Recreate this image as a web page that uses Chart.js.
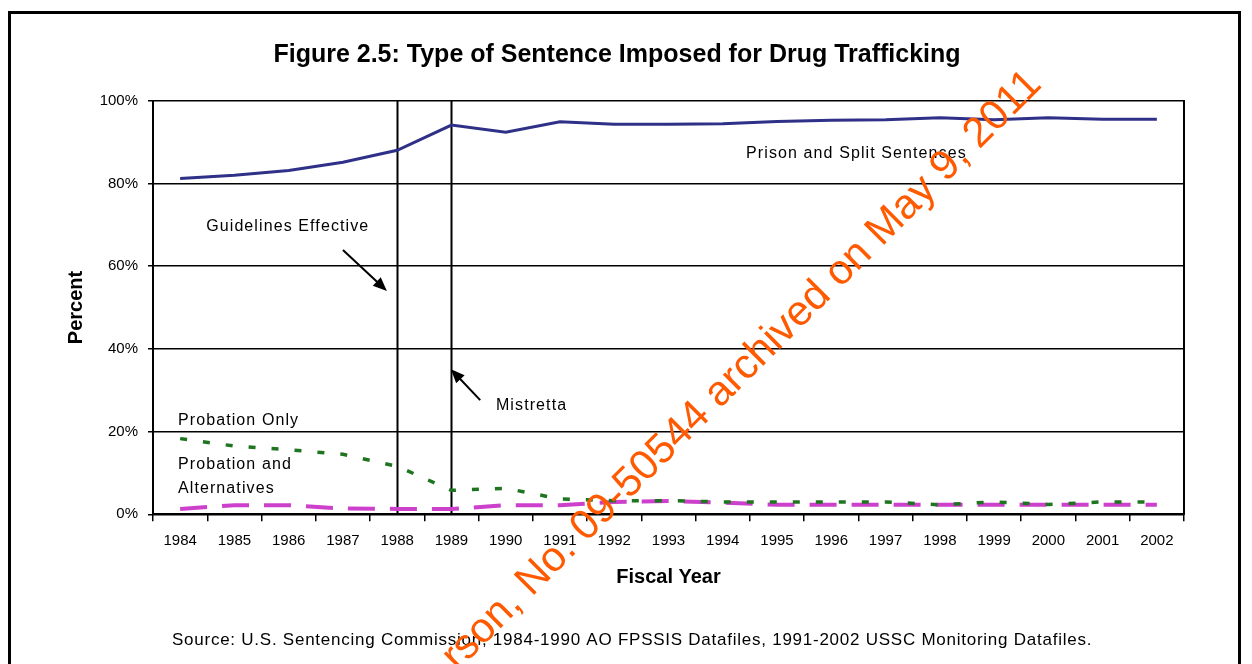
<!DOCTYPE html>
<html>
<head>
<meta charset="utf-8">
<title>Figure 2.5: Type of Sentence Imposed for Drug Trafficking</title>
<script src="https://cdn.jsdelivr.net/npm/chart.js@4.4.1/dist/chart.umd.min.js"></script>
<style>
  html, body { margin: 0; padding: 0; background: #fff; }
  #wrap { width: 1252px; height: 664px; }
</style>
</head>
<body>
<div id="wrap"><canvas id="chart" width="1252" height="664"></canvas></div>
<script>
// -------------- DATA ------------------

const years = [
    "1984", "1985", "1986", "1987", "1988", "1989", "1990", "1991", "1992", "1993",
    "1994", "1995", "1996", "1997", "1998", "1999", "2000", "2001", "2002",
];

// percent of sentences
const prisonSplit = [81.2, 82.0, 83.1, 85.1, 88.0, 94.1, 92.4, 94.9, 94.3, 94.3,
                     94.4, 95.0, 95.3, 95.4, 95.9, 95.4, 95.9, 95.5, 95.5];
const probationOnly = [18.3, 16.5, 15.6, 14.5, 11.6, 5.8, 6.3, 3.7, 3.3, 3.3,
                       3.0, 3.0, 3.0, 3.0, 2.3, 3.0, 2.4, 3.0, 3.0];
const probationAlt = [1.3, 2.2, 2.2, 1.4, 1.3, 1.3, 2.2, 2.2, 3.0, 3.2,
                      2.8, 2.3, 2.3, 2.3, 2.3, 2.3, 2.3, 2.3, 2.3];

const percentTicks = [0, 20, 40, 60, 80, 100];

// years marked with a vertical line
const markerYears = ["1988", "1989"];

// -------------- ANNOTATIONS (category index, percent) ------------------

const notes = [
    { text: "Guidelines Effective", i: 0.48, p: 69.5 },
    { text: "Mistretta", i: 5.82, p: 26.4 },
    { text: "Prison and Split Sentences", i: 10.43, p: 87.1 },
    { text: "Probation Only", i: -0.04, p: 22.6 },
    { text: "Probation and", i: -0.04, p: 11.9 },
    { text: "Alternatives", i: -0.04, p: 6.1 },
];

const arrows = [
    { from: [3.0, 63.9], to: [3.81, 54.0] },
    { from: [5.53, 27.6], to: [4.99, 35.1] },
];

const footer = "Source: U.S. Sentencing Commission, 1984-1990 AO FPSSIS Datafiles, 1991-2002 USSC Monitoring Datafiles.";
const stamp = "rson, No. 09-50544 archived on May 9, 2011";

Chart.defaults.font.family = "'Liberation Sans', Arial, sans-serif";
Chart.defaults.color = "#000";

// ------------ EXTRAS PLUGIN ------------------

const extras = {
    id: "extras",
    beforeDatasetsDraw(chart) {
        const { ctx, chartArea, scales } = chart;
        ctx.save();
        ctx.strokeStyle = "#000";
        ctx.lineWidth = 2;
        markerYears.forEach((yr) => {
            const x = Math.round(scales.x.getPixelForValue(years.indexOf(yr))) + 0.5;
            ctx.beginPath();
            ctx.moveTo(x, chartArea.top);
            ctx.lineTo(x, chartArea.bottom);
            ctx.stroke();
        });
        ctx.restore();
    },
    afterDraw(chart) {
        const { ctx, scales } = chart;
        const px = (i) => scales.x.getPixelForValue(0) + i * (scales.x.getPixelForValue(1) - scales.x.getPixelForValue(0));
        const py = (p) => scales.y.getPixelForValue(p);

        ctx.save();
        // text notes
        ctx.fillStyle = "#000";
        ctx.font = "16px 'Liberation Sans', Arial, sans-serif";
        ctx.letterSpacing = "1.1px";
        ctx.textAlign = "left";
        ctx.textBaseline = "middle";
        notes.forEach((n) => ctx.fillText(n.text, px(n.i), py(n.p)));

        // arrows
        ctx.strokeStyle = "#000";
        ctx.lineWidth = 2;
        arrows.forEach((a) => {
            const x0 = px(a.from[0]), y0 = py(a.from[1]);
            const x1 = px(a.to[0]), y1 = py(a.to[1]);
            const ang = Math.atan2(y1 - y0, x1 - x0);
            const head = 15;
            ctx.beginPath();
            ctx.moveTo(x0, y0);
            ctx.lineTo(x1 - Math.cos(ang) * 8, y1 - Math.sin(ang) * 8);
            ctx.stroke();
            ctx.beginPath();
            ctx.moveTo(x1, y1);
            ctx.lineTo(x1 - head * Math.cos(ang - 0.4), y1 - head * Math.sin(ang - 0.4));
            ctx.lineTo(x1 - head * Math.cos(ang + 0.4), y1 - head * Math.sin(ang + 0.4));
            ctx.closePath();
            ctx.fill();
        });

        // source line
        ctx.font = "17px 'Liberation Sans', Arial, sans-serif";
        ctx.letterSpacing = "0.75px";
        ctx.fillText(footer, 172, 640);

        // outer frame
        ctx.letterSpacing = "0px";
        ctx.lineWidth = 3;
        ctx.strokeRect(9.5, 12.5, 1230, 700);

        // archive stamp
        ctx.translate(1043, 86);
        ctx.rotate(-Math.PI / 4);
        ctx.fillStyle = "#ff5a00";
        ctx.font = "42px 'Liberation Sans', Arial, sans-serif";
        ctx.textAlign = "right";
        ctx.textBaseline = "alphabetic";
        ctx.fillText(stamp, 0, 0);
        ctx.restore();
    },
};

// ------------ CREATE CHART ------------------

const ctx = document.getElementById("chart");

new Chart(ctx, {
    type: "line",
    data: {
        labels: years,
        datasets: [
            {
                label: "Prison and Split Sentences",
                data: prisonSplit,
                borderColor: "#2f3087",
                borderWidth: 3,
                pointRadius: 0,
                tension: 0,
            },
            {
                label: "Probation Only",
                data: probationOnly,
                borderColor: "#1f741f",
                borderWidth: 3.5,
                borderDash: [7, 16],
                pointRadius: 0,
                tension: 0,
            },
            {
                label: "Probation and Alternatives",
                data: probationAlt,
                borderColor: "#cc40cc",
                borderWidth: 4,
                borderDash: [27, 15],
                pointRadius: 0,
                tension: 0,
            },
        ],
    },
    options: {
        responsive: false,
        animation: false,
        layout: {
            padding: { left: 10, right: 28, top: 0, bottom: 33 },
        },
        plugins: {
            legend: { display: false },
            tooltip: { enabled: false },
            title: {
                display: true,
                text: "Figure 2.5: Type of Sentence Imposed for Drug Trafficking",
                font: { size: 25, weight: "bold" },
                color: "#000",
                padding: { top: 40, bottom: 30.7 },
            },
        },
        scales: {
            x: {
                type: "category",
                offset: true,
                grid: {
                    offset: true,
                    drawOnChartArea: false,
                    drawTicks: true,
                    tickLength: 7,
                    color: "#000",
                    lineWidth: 1.5,
                },
                border: { display: true, color: "#000", width: 2 },
                ticks: {
                    font: { size: 15 },
                    color: "#000",
                    padding: 11,
                    maxRotation: 0,
                    autoSkip: false,
                },
                title: {
                    display: true,
                    text: "Fiscal Year",
                    font: { size: 20, weight: "bold" },
                    color: "#000",
                    padding: { top: 0, bottom: 42 },
                },
                afterFit(s) {
                    s.height = 116.7;
                },
            },
            y: {
                min: 0,
                max: 100,
                afterBuildTicks(s) {
                    s.ticks = percentTicks.map((v) => ({ value: v }));
                },
                grid: {
                    color: "#000",
                    lineWidth: 1.5,
                    drawTicks: true,
                    tickLength: 5,
                },
                border: { display: true, color: "#000", width: 2 },
                ticks: {
                    font: { size: 15 },
                    color: "#000",
                    padding: 10,
                    callback: (v) => v + "%",
                },
                title: {
                    display: true,
                    text: "Percent",
                    font: { size: 20, weight: "bold" },
                    color: "#000",
                    padding: { top: 54, bottom: 0 },
                },
                afterFit(s) {
                    s.width = 143;
                },
            },
            yRight: {
                position: "right",
                grid: { display: false, drawTicks: false },
                ticks: { display: false },
                border: { display: true, color: "#000", width: 2 },
                afterFit(s) {
                    s.width = 40;
                },
            },
        },
    },
    plugins: [extras],
});
</script>
</body>
</html>
